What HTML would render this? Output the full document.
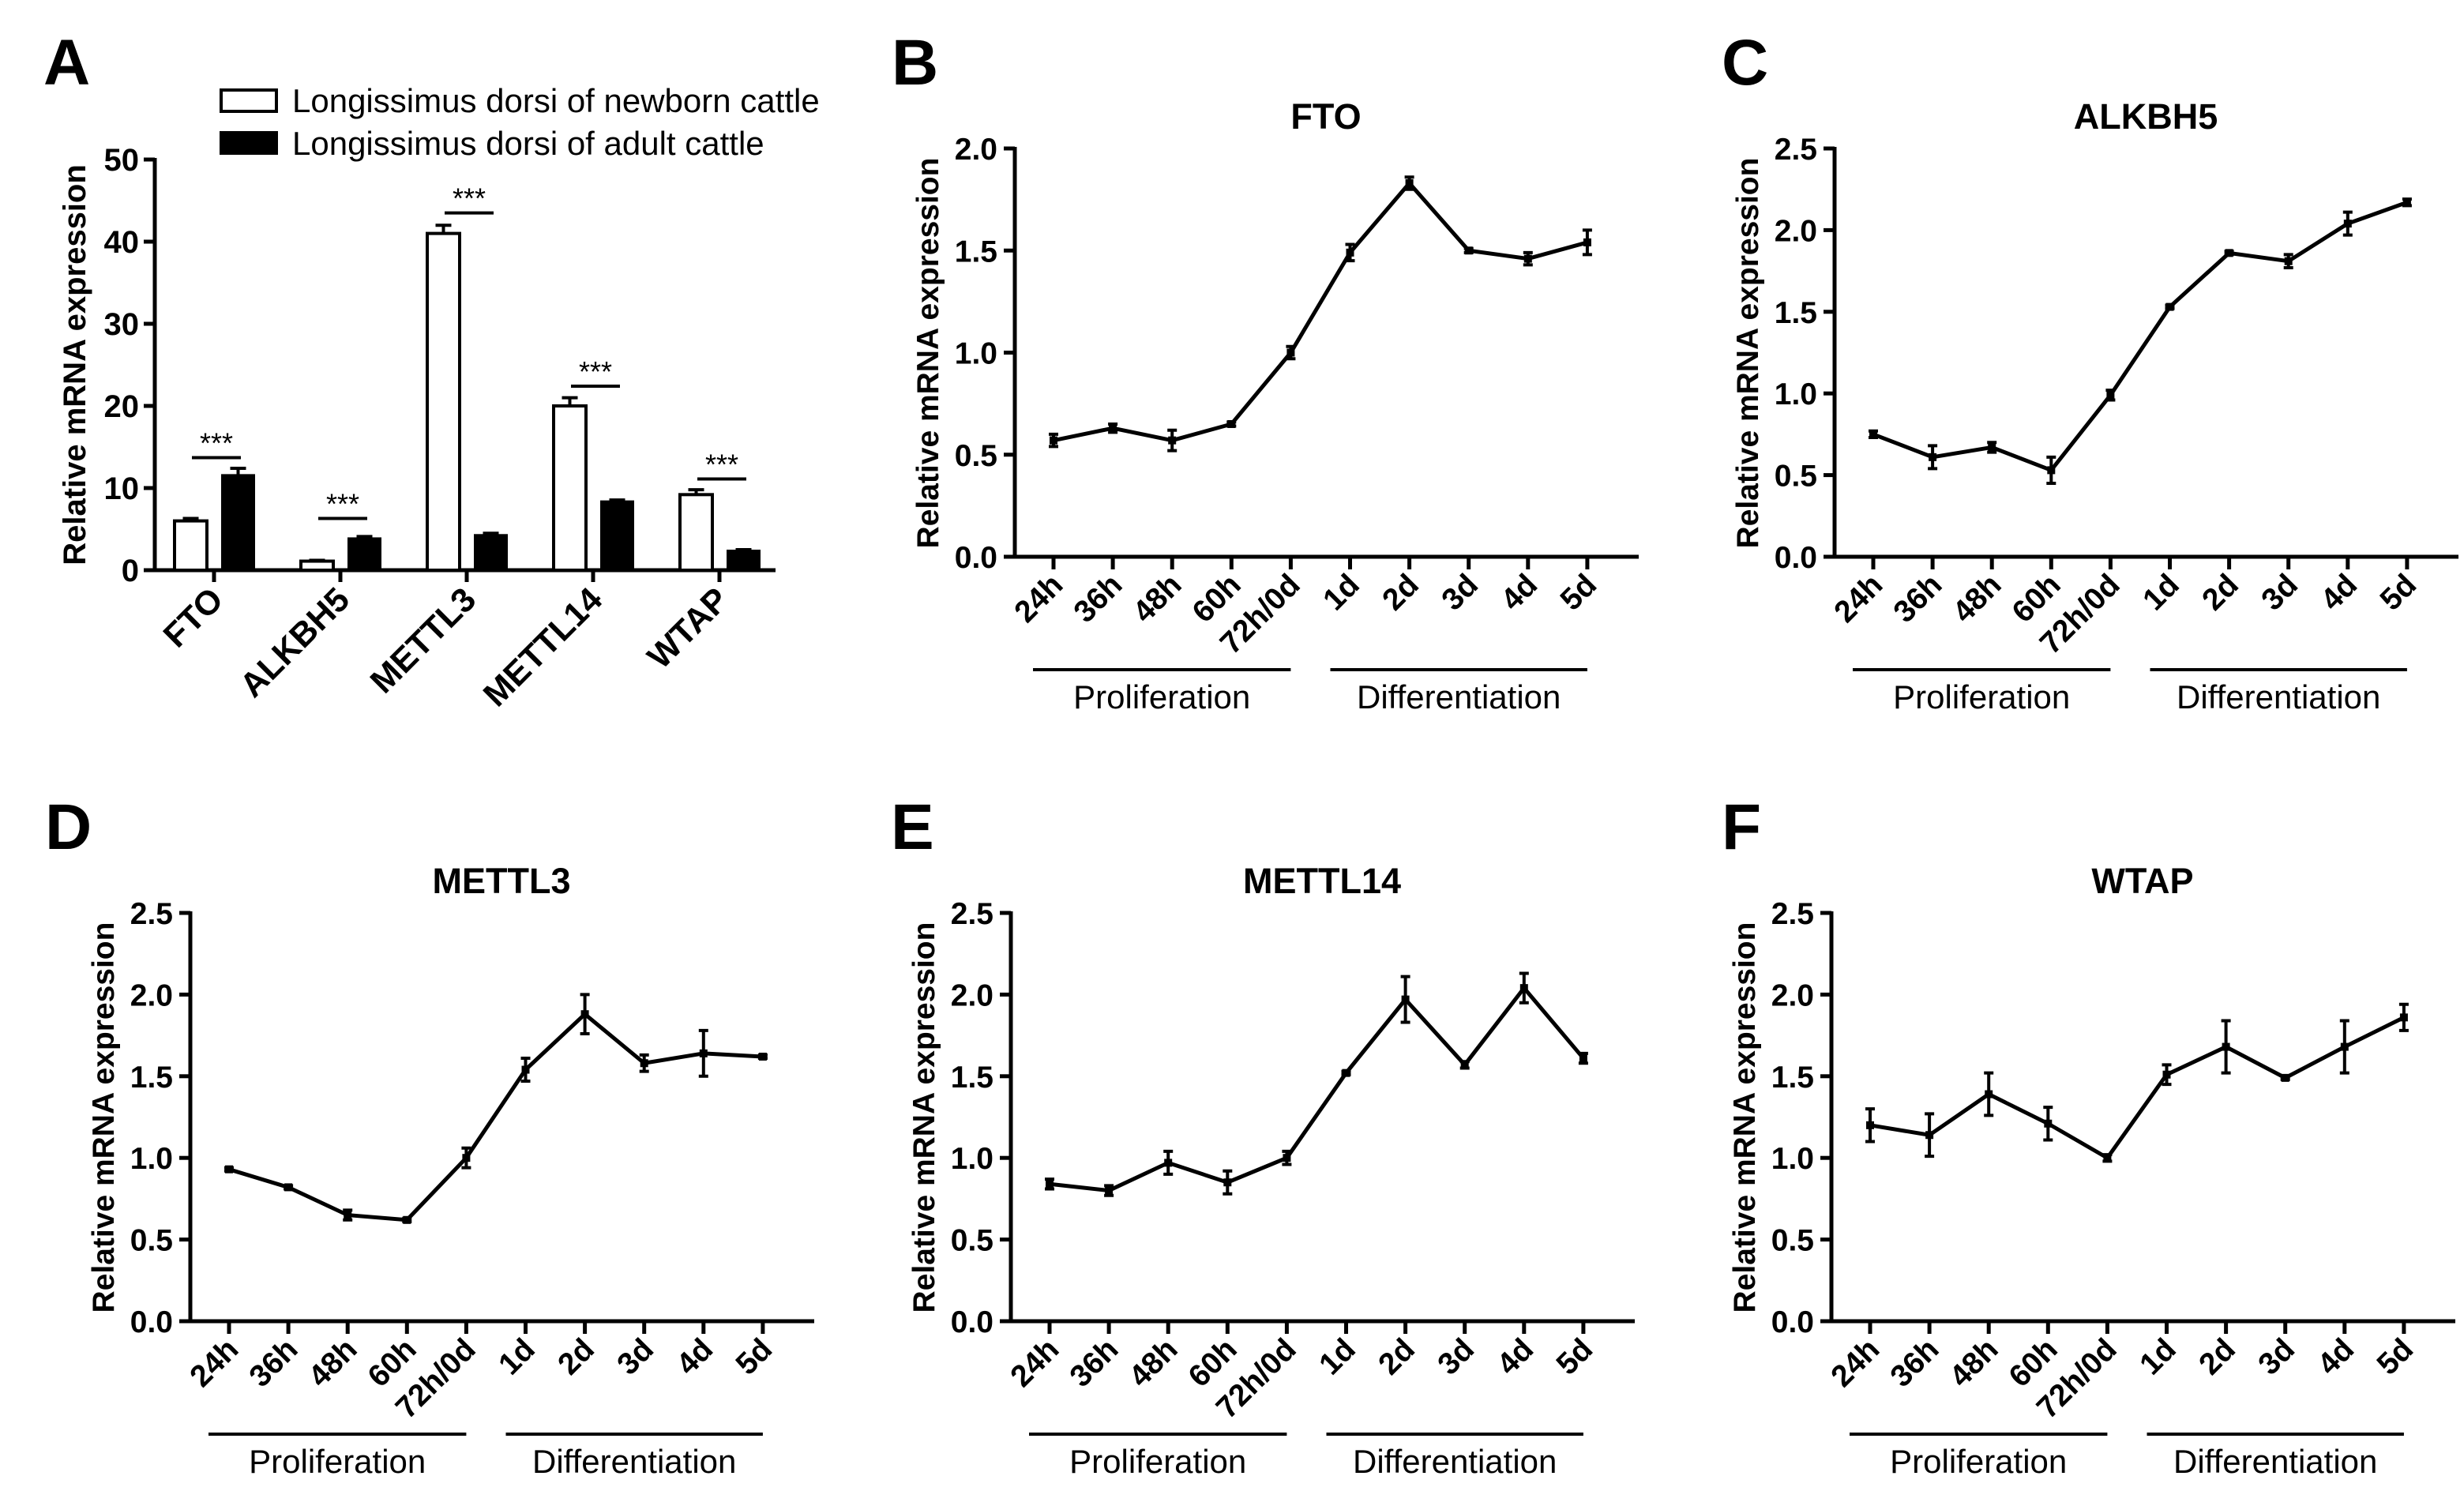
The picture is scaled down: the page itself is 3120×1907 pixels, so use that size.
<!DOCTYPE html>
<html><head><meta charset="utf-8"><style>
html,body{margin:0;padding:0;background:#fff;}
svg{display:block;font-family:"Liberation Sans",Arial,sans-serif;}
</style></head><body>
<svg id="fig" width="3120" height="1907" viewBox="0 0 3120 1907" xmlns="http://www.w3.org/2000/svg"></svg>
<script>
// Panel A data
const barCategories = ["FTO","ALKBH5","METTL3","METTL14","WTAP"];
const newbornValues = [6.0, 1.1, 41.0, 20.0, 9.2];
const newbornErrors = [0.3, 0.1, 1.0, 1.0, 0.6];
const adultValues = [11.6, 3.9, 4.3, 8.4, 2.4];
const adultErrors = [0.8, 0.2, 0.2, 0.15, 0.1];
const sigLevels = [13.7, 6.3, 43.5, 22.4, 11.1];
const barTicks = [0, 10, 20, 30, 40, 50];
// Line panels
const timeLabels = ["24h","36h","48h","60h","72h/0d","1d","2d","3d","4d","5d"];
const ftoValues = [0.57,0.63,0.57,0.65,1.00,1.49,1.83,1.50,1.46,1.54];
const ftoErrors = [0.03,0.02,0.05,0.01,0.03,0.04,0.03,0.01,0.03,0.06];
const alkbh5Values = [0.75,0.61,0.67,0.53,0.99,1.53,1.86,1.81,2.04,2.17];
const alkbh5Errors = [0.02,0.07,0.03,0.08,0.03,0.01,0.01,0.04,0.07,0.02];
const mettl3Values = [0.93,0.82,0.65,0.62,1.00,1.54,1.88,1.58,1.64,1.62];
const mettl3Errors = [0.01,0.01,0.03,0.01,0.06,0.07,0.12,0.05,0.14,0.01];
const mettl14Values = [0.84,0.80,0.97,0.85,1.00,1.52,1.97,1.57,2.04,1.61];
const mettl14Errors = [0.03,0.03,0.07,0.07,0.04,0.01,0.14,0.02,0.09,0.03];
const wtapValues = [1.20,1.14,1.39,1.21,1.00,1.51,1.68,1.49,1.68,1.86];
const wtapErrors = [0.10,0.13,0.13,0.10,0.02,0.06,0.16,0.01,0.16,0.08];
const ticks20 = [0.0,0.5,1.0,1.5,2.0];
const ticks25 = [0.0,0.5,1.0,1.5,2.0,2.5];

const NS = "http://www.w3.org/2000/svg";
const svg = document.getElementById("fig");
function mk(tag, attrs, parent, text){
  const e = document.createElementNS(NS, tag);
  for (const k in attrs) e.setAttribute(k, attrs[k]);
  if (text !== undefined) e.textContent = text;
  (parent || svg).appendChild(e);
  return e;
}

// ---------- Panel A ----------
(function(){
  const g = mk("g", {});
  
  
  const ax = 196, y0 = 722, yTop = 202, xEnd = 982, vmax = 50;
  const y = v => y0 - (v / vmax) * (y0 - yTop);
  const cx = i => 271 + i * 160;
  let t = mk("text", {x:55, y:107, "font-size":82, "font-weight":"bold"}, g, "A");
  
  
  // legend
  let r = mk("rect", {x:280, y:114, width:70, height:27, fill:"#fff", stroke:"#000", "stroke-width":4}, g);
  
  
  t = mk("text", {x:370, y:142, "font-size":42}, g, "Longissimus dorsi of newborn cattle");
  
  
  r = mk("rect", {x:278, y:166, width:74, height:30, fill:"#000"}, g);
  
  
  t = mk("text", {x:370, y:196, "font-size":42}, g, "Longissimus dorsi of adult cattle");
  
  
  // axes
  let l = mk("path", {d:`M${ax} ${yTop-2} V${y0} H${xEnd}`, fill:"none", stroke:"#000", "stroke-width":5}, g);
  
  
  barTicks.forEach(v => {
    mk("line", {x1:ax-14, x2:ax, y1:y(v), y2:y(v), stroke:"#000", "stroke-width":5}, g);
    const tt = mk("text", {x:ax-20, y:y(v)+14, "font-size":40, "font-weight":"bold", "text-anchor":"end"}, g, String(v));
    
    
  });
  t = mk("text", {transform:`translate(108,${(y0+yTop)/2}) rotate(-90)`, "font-size":40, "font-weight":"bold", "text-anchor":"middle"}, g, "Relative mRNA expression");
  
  
  barCategories.forEach((c, i) => {
    const x = cx(i);
    mk("line", {x1:x, x2:x, y1:y0, y2:y0+15, stroke:"#000", "stroke-width":5}, g);
    const tl = mk("text", {transform:`translate(${x+14},${y0+40}) rotate(-45)`, "font-size":43, "font-weight":"bold", "text-anchor":"end"}, g, c);
    
    
    const bw = 41;
    const wx = x - 50, bx = x + 10;
    mk("line", {x1:wx+bw/2, x2:wx+bw/2, y1:y(newbornValues[i]+newbornErrors[i]), y2:y(newbornValues[i]), stroke:"#000", "stroke-width":4}, g);
    mk("line", {x1:wx+bw/2-10, x2:wx+bw/2+10, y1:y(newbornValues[i]+newbornErrors[i]), y2:y(newbornValues[i]+newbornErrors[i]), stroke:"#000", "stroke-width":4}, g);
    const b1 = mk("rect", {x:wx, y:y(newbornValues[i]), width:bw, height:y0-y(newbornValues[i]), fill:"#fff", stroke:"#000", "stroke-width":4}, g);
    
    
    mk("line", {x1:bx+bw/2, x2:bx+bw/2, y1:y(adultValues[i]+adultErrors[i]), y2:y(adultValues[i]), stroke:"#000", "stroke-width":4}, g);
    mk("line", {x1:bx+bw/2-10, x2:bx+bw/2+10, y1:y(adultValues[i]+adultErrors[i]), y2:y(adultValues[i]+adultErrors[i]), stroke:"#000", "stroke-width":4}, g);
    const b2 = mk("rect", {x:bx, y:y(adultValues[i]), width:bw, height:y0-y(adultValues[i]), fill:"#000", stroke:"#000", "stroke-width":2}, g);
    
    
    const sl = mk("line", {x1:x-28, x2:x+34, y1:y(sigLevels[i]), y2:y(sigLevels[i]), stroke:"#000", "stroke-width":4}, g);
    
    
    const st = mk("text", {x:x+3, y:y(sigLevels[i])-6, "font-size":36, "text-anchor":"middle"}, g, "***");
    
    
  });
})();

// ---------- Line panels ----------
function linePanel(letter, title, values, errors, ticks, vmax, ax, y0, letterX){
  const g = mk("g", {});
  
  
  const yTop = y0 - 517;
  const y = v => y0 - (v / vmax) * 517;
  const x = i => ax + 49 + i * 75.1;
  const xEnd = ax + 790;
  let t = mk("text", {x:letterX, y:y0-598, "font-size":82, "font-weight":"bold"}, g, letter);
  
  
  t = mk("text", {x:ax+394, y:y0-542, "font-size":45, "font-weight":"bold", "text-anchor":"middle"}, g, title);
  
  
  let l = mk("path", {d:`M${ax} ${yTop-2} V${y0} H${xEnd}`, fill:"none", stroke:"#000", "stroke-width":5}, g);
  
  
  ticks.forEach(v => {
    mk("line", {x1:ax-14, x2:ax, y1:y(v), y2:y(v), stroke:"#000", "stroke-width":5}, g);
    const tt = mk("text", {x:ax-22, y:y(v)+14, "font-size":39, "font-weight":"bold", "text-anchor":"end"}, g, v.toFixed(1));
    
    
  });
  t = mk("text", {transform:`translate(${ax-97},${y0-258}) rotate(-90)`, "font-size":39, "font-weight":"bold", "text-anchor":"middle"}, g, "Relative mRNA expression");
  
  
  timeLabels.forEach((lab, i) => {
    mk("line", {x1:x(i), x2:x(i), y1:y0, y2:y0+16, stroke:"#000", "stroke-width":5}, g);
    const tl = mk("text", {transform:`translate(${x(i)+14},${y0+38}) rotate(-45)`, "font-size":39, "font-weight":"bold", "text-anchor":"end"}, g, lab);
    
    
  });
  const pts = values.map((v, i) => `${x(i)},${y(v)}`).join(" ");
  const pl = mk("polyline", {points:pts, fill:"none", stroke:"#000", "stroke-width":5, "stroke-linejoin":"miter"}, g);
  
  
  values.forEach((v, i) => {
    const e = errors[i];
    const eb = mk("path", {d:`M${x(i)} ${y(v+e)} V${y(v-e)} M${x(i)-6} ${y(v+e)} H${x(i)+6} M${x(i)-6} ${y(v-e)} H${x(i)+6}`, stroke:"#000", "stroke-width":4, fill:"none"}, g);
    
    
    const m = mk("rect", {x:x(i)-5, y:y(v)-5, width:10, height:10, fill:"#000"}, g);
    
    
  });
  l = mk("line", {x1:x(0)-26, x2:x(4), y1:y0+143, y2:y0+143, stroke:"#000", "stroke-width":4}, g);
  
  
  l = mk("line", {x1:x(5)-25, x2:x(9), y1:y0+143, y2:y0+143, stroke:"#000", "stroke-width":4}, g);
  
  
  t = mk("text", {x:(x(0)-26+x(4))/2, y:y0+192, "font-size":42, "text-anchor":"middle"}, g, "Proliferation");
  
  
  t = mk("text", {x:(x(5)-25+x(9))/2, y:y0+192, "font-size":42, "text-anchor":"middle"}, g, "Differentiation");
  
  
}
linePanel("B", "FTO", ftoValues, ftoErrors, ticks20, 2.0, 1285, 705, 1129);
linePanel("C", "ALKBH5", alkbh5Values, alkbh5Errors, ticks25, 2.5, 2323, 705, 2180);
linePanel("D", "METTL3", mettl3Values, mettl3Errors, ticks25, 2.5, 241, 1673, 57);
linePanel("E", "METTL14", mettl14Values, mettl14Errors, ticks25, 2.5, 1280, 1673, 1128);
linePanel("F", "WTAP", wtapValues, wtapErrors, ticks25, 2.5, 2319, 1673, 2180);
</script>
</body></html>
